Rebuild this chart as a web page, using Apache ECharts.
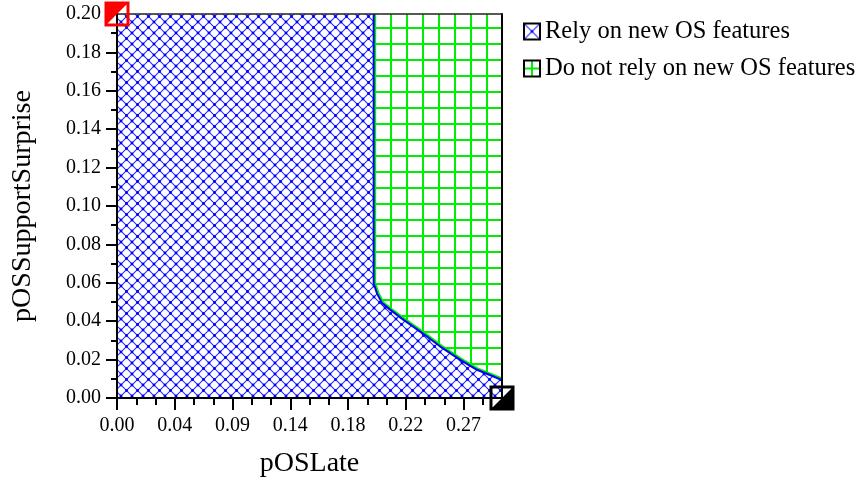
<!DOCTYPE html>
<html>
<head>
<meta charset="utf-8">
<script src="https://cdn.jsdelivr.net/npm/echarts@6/dist/echarts.min.js"></script>
<style>
html,body{margin:0;padding:0;background:#fff;}
#chart{width:861px;height:490px;}
</style>
</head>
<body>
<div id="chart"></div>
<script>
// ---- data ----
const xTicks = [0, 0.045, 0.09, 0.135, 0.18, 0.225, 0.27];
const xTickLabels = ['0.00', '0.04', '0.09', '0.14', '0.18', '0.22', '0.27'];
const xMinorTicks = [0.015, 0.03, 0.06, 0.075, 0.105, 0.12, 0.15, 0.165, 0.195, 0.21, 0.24, 0.255, 0.285];
// decision boundary between the two regions (pOSLate, pOSSupportSurprise)
const boundary = [
  [0.2, 0.2], [0.2, 0.0597], [0.2026, 0.0545], [0.2065, 0.0494], [0.213, 0.0459],
  [0.2233, 0.0407], [0.2363, 0.0346], [0.2519, 0.0268], [0.2675, 0.0199],
  [0.2805, 0.0147], [0.2934, 0.0112], [0.3, 0.0093]
];
const relyTop = [[0, 0.2]].concat(boundary);
const notRelyTop = [[0.2, 0.2], [0.3, 0.2]];
const markers = [[0, 0.2], [0.3, 0]];
const seriesNames = ['Rely on new OS features', 'Do not rely on new OS features'];

// ---- patterns ----
function crossHatch(size) {
  const c = document.createElement('canvas');
  c.width = c.height = size;
  const g = c.getContext('2d');
  g.fillStyle = '#fff'; g.fillRect(0, 0, size, size);
  g.strokeStyle = '#2a2aff'; g.lineWidth = 1.1;
  g.beginPath();
  g.moveTo(0, 0); g.lineTo(size, size);
  g.moveTo(size, 0); g.lineTo(0, size);
  g.stroke();
  g.fillStyle = '#0000ff';
  [[0,0],[size,0],[0,size],[size,size],[size/2,size/2]].forEach(function (p) {
    g.beginPath(); g.arc(p[0], p[1], 1.4, 0, Math.PI * 2); g.fill();
  });
  return c;
}
function grid(size, ox, oy, w) {
  const c = document.createElement('canvas');
  c.width = c.height = size;
  const g = c.getContext('2d');
  g.fillStyle = '#fff'; g.fillRect(0, 0, size, size);
  g.fillStyle = '#00ee00';
  g.fillRect(ox, 0, w, size);
  g.fillRect(0, oy, size, w);
  return c;
}
const bluePattern = { image: crossHatch(11), repeat: 'repeat' };
const greenPattern = { image: grid(16, 6, 11, 2), repeat: 'repeat' };
const blueLegendPattern = { image: crossHatch(16), repeat: 'repeat' };
const greenLegendPattern = { image: grid(16, 7, 7, 2), repeat: 'repeat' };

const FONT = '"Liberation Serif", "Times New Roman", serif';

const chart = echarts.init(document.getElementById('chart'), null, { renderer: 'canvas' });
chart.setOption({
  animation: false,
  backgroundColor: '#fff',
  grid: { left: 117, top: 14, right: 359, bottom: 92, containLabel: false },
  legend: {
    orient: 'vertical', left: 518, top: 14, itemWidth: 16, itemHeight: 16, itemGap: 12,
    icon: 'rect',
    textStyle: { fontFamily: FONT, fontSize: 24.5, color: '#000' },
    data: [
      { name: seriesNames[0], icon: 'rect', itemStyle: { color: blueLegendPattern, borderColor: '#000', borderWidth: 2 } },
      { name: seriesNames[1], icon: 'rect', itemStyle: { color: greenLegendPattern, borderColor: '#000', borderWidth: 2 } }
    ]
  },
  xAxis: [
    {
      type: 'value', position: 'bottom', min: 0, max: 0.3, z: 10,
      name: 'pOSLate', nameLocation: 'middle', nameGap: 52,
      nameTextStyle: { fontFamily: FONT, fontSize: 28, color: '#000' },
      axisLine: { show: true, onZero: false, lineStyle: { color: '#000', width: 2 } },
      axisTick: { show: true, customValues: xTicks, length: 12, lineStyle: { color: '#000', width: 2 } },
      axisLabel: {
        customValues: xTicks, margin: 18,
        fontFamily: FONT, fontSize: 20, color: '#000',
        formatter: function (v) {
          let best = 0;
          for (let i = 0; i < xTicks.length; i++) if (Math.abs(xTicks[i] - v) < Math.abs(xTicks[best] - v)) best = i;
          return xTickLabels[best];
        }
      },
      splitLine: { show: false }
    },
    {
      type: 'value', position: 'bottom', min: 0, max: 0.3, z: 10,
      axisLine: { show: false },
      axisTick: { show: true, customValues: xMinorTicks, length: 7, lineStyle: { color: '#000', width: 2 } },
      axisLabel: { show: false },
      splitLine: { show: false }
    },
    {
      type: 'value', position: 'top', min: 0, max: 0.3, z: 10,
      axisLine: { show: true, onZero: false, lineStyle: { color: '#222', width: 1.5 } },
      axisTick: { show: false }, axisLabel: { show: false }, splitLine: { show: false }
    }
  ],
  yAxis: [
    {
      type: 'value', position: 'left', min: 0, max: 0.2, interval: 0.02, z: 10,
      name: 'pOSSupportSurprise', nameLocation: 'middle', nameGap: 80,
      nameTextStyle: { fontFamily: FONT, fontSize: 28, color: '#000' },
      axisLine: { show: true, onZero: false, lineStyle: { color: '#000', width: 2 } },
      axisTick: { show: true, length: 11, lineStyle: { color: '#000', width: 2 } },
      minorTick: { show: true, splitNumber: 2, length: 6, lineStyle: { color: '#000', width: 2 } },
      axisLabel: {
        margin: 16, fontFamily: FONT, fontSize: 20, color: '#000',
        formatter: function (v) { return v.toFixed(2); }
      },
      splitLine: { show: false }
    },
    {
      type: 'value', position: 'right', min: 0, max: 0.2, z: 10,
      axisLine: { show: true, onZero: false, lineStyle: { color: '#000', width: 2 } },
      axisTick: { show: false }, axisLabel: { show: false }, splitLine: { show: false }
    }
  ],
  series: [
    {
      name: seriesNames[1], type: 'line', data: notRelyTop, symbol: 'none', z: 2,
      lineStyle: { width: 0 }, itemStyle: { color: '#00ee00' },
      areaStyle: { color: greenPattern, opacity: 1, origin: 'start' }
    },
    {
      name: seriesNames[1], type: 'line', data: boundary, symbol: 'none', z: 3,
      lineStyle: { color: '#00ee00', width: 5 }, itemStyle: { color: '#00ee00' }
    },
    {
      name: seriesNames[0], type: 'line', data: relyTop, symbol: 'none', z: 4,
      lineStyle: { width: 0 }, itemStyle: { color: '#0000ff' },
      areaStyle: { color: bluePattern, opacity: 1, origin: 'start' }
    },
    {
      name: seriesNames[0], type: 'line', data: boundary, symbol: 'none', z: 5,
      lineStyle: { color: '#0000ff', width: 2 }, itemStyle: { color: '#0000ff' }
    },
    {
      type: 'custom', data: markers, z: 20, clip: false, silent: true,
      renderItem: function (params, api) {
        const p = api.coord([api.value(0), api.value(1)]);
        const h = 11;
        const x0 = p[0] - h, y0 = p[1] - h, x1 = p[0] + h, y1 = p[1] + h;
        const red = params.dataIndex === 0;
        const col = red ? '#ff0000' : '#000';
        const tri = red ? [[x0, y0], [x1, y0], [x0, y1]] : [[x1, y0], [x1, y1], [x0, y1]];
        return {
          type: 'group',
          children: [
            { type: 'polygon', shape: { points: tri }, style: { fill: col } },
            { type: 'rect', shape: { x: x0, y: y0, width: 2 * h, height: 2 * h }, style: { fill: null, stroke: col, lineWidth: 3 } }
          ]
        };
      }
    }
  ]
});
</script>
</body>
</html>
